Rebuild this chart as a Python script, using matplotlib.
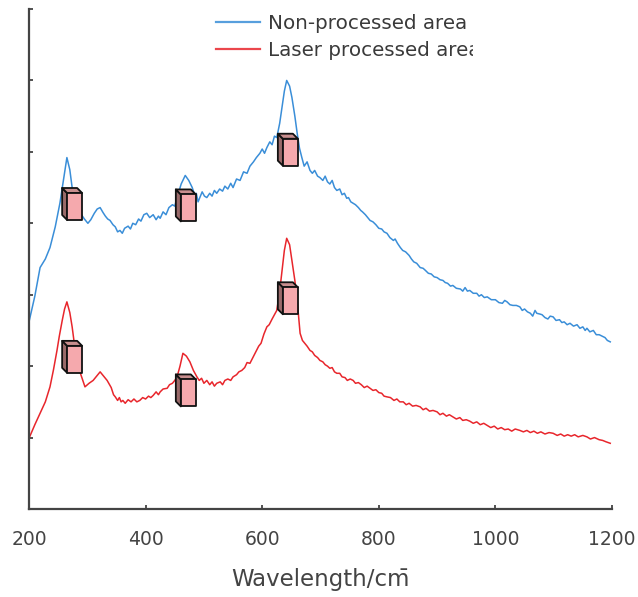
import matplotlib

matplotlib.use("Agg")
import matplotlib.pyplot as plt
from matplotlib.patches import Polygon
from matplotlib.transforms import Bbox, ScaledTranslation, TransformedBbox

# Spectra as (wavenumber, intensity) pairs, intensity 0..7
blue_spectrum = [
    (200, 2.62), (210, 2.98), (219, 3.38), (228, 3.50), (236, 3.66), (245, 3.95),
    (253, 4.28), (259, 4.60), (265, 4.92), (270, 4.75), (274, 4.50), (280, 4.30),
    (285, 4.18), (290, 4.12), (295, 4.06), (301, 4.00), (306, 4.05), (312, 4.14),
    (317, 4.20), (322, 4.22), (327, 4.15), (331, 4.10), (335, 4.06), (339, 4.04),
    (344, 3.98), (348, 3.95), (352, 3.88), (356, 3.90), (360, 3.86), (364, 3.93),
    (370, 3.96), (374, 3.92), (378, 4.00), (383, 3.98), (388, 4.06), (392, 4.03),
    (397, 4.12), (402, 4.14), (407, 4.08), (413, 4.12), (418, 4.05), (422, 4.10),
    (425, 4.07), (430, 4.16), (435, 4.12), (440, 4.22), (446, 4.26), (450, 4.24),
    (454, 4.36), (461, 4.55), (468, 4.67), (474, 4.60), (480, 4.50), (484, 4.40),
    (487, 4.42), (490, 4.30), (493, 4.36), (497, 4.44), (501, 4.38), (505, 4.36),
    (510, 4.42), (514, 4.38), (518, 4.46), (522, 4.42), (527, 4.48), (532, 4.45),
    (536, 4.52), (541, 4.48), (546, 4.56), (550, 4.50), (556, 4.62), (562, 4.60),
    (568, 4.72), (574, 4.70), (579, 4.80), (585, 4.86), (590, 4.92), (596, 4.98),
    (600, 5.04), (604, 4.98), (608, 5.06), (613, 5.14), (617, 5.10), (621, 5.22),
    (625, 5.20), (630, 5.40), (634, 5.62), (638, 5.85), (642, 6.00), (647, 5.92),
    (651, 5.76), (656, 5.50), (660, 5.26), (664, 5.05), (668, 4.92), (672, 4.80),
    (677, 4.86), (682, 4.74), (686, 4.70), (690, 4.74), (695, 4.66), (699, 4.64),
    (704, 4.60), (708, 4.66), (712, 4.58), (716, 4.55), (720, 4.60), (724, 4.50),
    (728, 4.46), (733, 4.48), (737, 4.40), (741, 4.42), (745, 4.35), (748, 4.36),
    (752, 4.30), (756, 4.28), (760, 4.26), (765, 4.22), (769, 4.18), (772, 4.16),
    (777, 4.12), (781, 4.08), (785, 4.04), (790, 4.02), (795, 3.98), (800, 3.93),
    (805, 3.92), (809, 3.88), (814, 3.86), (819, 3.80), (825, 3.76), (828, 3.78),
    (832, 3.72), (837, 3.66), (841, 3.62), (846, 3.60), (852, 3.55), (856, 3.50),
    (860, 3.46), (865, 3.44), (871, 3.38), (876, 3.37), (880, 3.34), (885, 3.30),
    (890, 3.29), (895, 3.25), (900, 3.24), (905, 3.21), (910, 3.20), (914, 3.17),
    (918, 3.16), (923, 3.12), (927, 3.13), (933, 3.09), (940, 3.08), (944, 3.05),
    (948, 3.10), (952, 3.05), (956, 3.06), (962, 3.02), (968, 3.02), (972, 2.98),
    (976, 3.00), (981, 2.96), (986, 2.97), (993, 2.93), (1000, 2.93), (1006, 2.89),
    (1012, 2.88), (1016, 2.92), (1020, 2.90), (1025, 2.86), (1030, 2.85), (1036, 2.85),
    (1042, 2.83), (1046, 2.78), (1050, 2.80), (1055, 2.76), (1060, 2.74), (1064, 2.70),
    (1068, 2.78), (1071, 2.74), (1076, 2.73), (1080, 2.72), (1085, 2.68), (1090, 2.66),
    (1094, 2.70), (1099, 2.69), (1104, 2.64), (1110, 2.65), (1114, 2.61), (1118, 2.62),
    (1123, 2.58), (1128, 2.60), (1134, 2.56), (1140, 2.58), (1145, 2.53), (1150, 2.55),
    (1154, 2.50), (1157, 2.53), (1162, 2.48), (1168, 2.50), (1173, 2.44), (1178, 2.44),
    (1183, 2.42), (1188, 2.40), (1192, 2.36), (1197, 2.34),
]

red_spectrum = [
    (200, 0.99), (210, 1.18), (219, 1.34), (228, 1.50), (236, 1.71), (242, 1.95),
    (248, 2.22), (252, 2.42), (257, 2.64), (261, 2.80), (265, 2.90), (270, 2.75),
    (274, 2.55), (278, 2.30), (282, 2.08), (289, 1.88), (296, 1.71), (303, 1.76),
    (310, 1.80), (316, 1.86), (322, 1.92), (328, 1.86), (334, 1.80), (341, 1.70),
    (345, 1.60), (348, 1.57), (352, 1.52), (355, 1.56), (358, 1.50), (361, 1.52),
    (365, 1.48), (370, 1.53), (375, 1.50), (380, 1.54), (385, 1.50), (390, 1.52),
    (395, 1.56), (400, 1.54), (405, 1.58), (409, 1.56), (413, 1.59), (418, 1.64),
    (422, 1.60), (425, 1.64), (430, 1.68), (437, 1.69), (441, 1.74), (446, 1.76),
    (450, 1.80), (454, 1.85), (459, 2.00), (464, 2.18), (470, 2.14), (476, 2.06),
    (482, 1.94), (488, 1.85), (492, 1.80), (496, 1.83), (500, 1.76), (505, 1.80),
    (510, 1.74), (514, 1.78), (518, 1.72), (522, 1.76), (528, 1.78), (532, 1.74),
    (536, 1.80), (541, 1.82), (546, 1.80), (550, 1.85), (556, 1.88), (560, 1.92),
    (565, 1.94), (570, 1.98), (574, 2.05), (579, 2.04), (584, 2.12), (589, 2.20),
    (594, 2.28), (598, 2.32), (603, 2.45), (608, 2.55), (612, 2.58), (617, 2.66),
    (621, 2.72), (625, 2.78), (630, 3.05), (634, 3.34), (638, 3.62), (642, 3.79),
    (647, 3.70), (651, 3.48), (656, 3.20), (660, 2.92), (665, 2.46), (669, 2.36),
    (673, 2.32), (677, 2.28), (682, 2.22), (686, 2.20), (690, 2.15), (695, 2.12),
    (699, 2.08), (704, 2.06), (708, 2.02), (712, 2.00), (716, 1.97), (720, 1.98),
    (724, 1.92), (728, 1.90), (733, 1.90), (737, 1.85), (742, 1.84), (746, 1.80),
    (751, 1.82), (756, 1.80), (760, 1.76), (765, 1.77), (770, 1.74), (775, 1.70),
    (780, 1.72), (785, 1.69), (790, 1.66), (795, 1.67), (800, 1.63), (805, 1.62),
    (809, 1.58), (814, 1.57), (820, 1.56), (826, 1.52), (831, 1.54), (836, 1.50),
    (842, 1.50), (847, 1.46), (852, 1.48), (858, 1.44), (864, 1.45), (871, 1.43),
    (876, 1.39), (881, 1.41), (887, 1.37), (893, 1.38), (900, 1.36), (905, 1.32),
    (910, 1.34), (916, 1.30), (921, 1.32), (927, 1.29), (933, 1.26), (939, 1.28),
    (944, 1.24), (950, 1.25), (956, 1.23), (962, 1.20), (968, 1.22), (974, 1.18),
    (980, 1.20), (986, 1.17), (992, 1.14), (998, 1.16), (1004, 1.12), (1010, 1.14),
    (1016, 1.11), (1022, 1.12), (1028, 1.09), (1034, 1.12), (1042, 1.10), (1048, 1.08),
    (1054, 1.10), (1060, 1.07), (1066, 1.09), (1072, 1.06), (1078, 1.08), (1085, 1.05),
    (1092, 1.07), (1099, 1.06), (1106, 1.03), (1112, 1.05), (1118, 1.02), (1124, 1.04),
    (1130, 1.02), (1136, 1.04), (1142, 1.01), (1150, 1.03), (1157, 1.01), (1163, 0.98),
    (1170, 1.00), (1178, 0.97), (1184, 0.96), (1190, 0.94), (1197, 0.92),
]

# box markers on the peaks
box_x = [274, 469, 644]
blue_box_y = [4.27, 4.25, 5.03]
red_box_y = [2.13, 1.66, 2.95]

x_ticks = [200, 400, 600, 800, 1000, 1200]
labels = ["Non-processed area", "Laser processed area"]

BLUE = "#3a8ed8"
RED = "#e8262c"


def draw_box(ax, fig, x, y, w=20, h=32, d=5):
    """Small 3D cuboid centred at a data point; sizes are in pixels."""
    trans = fig.dpi_scale_trans + ScaledTranslation(x, y, ax.transData)
    s = 1.0 / fig.dpi
    xl, xr, yb, yt = -w / 2 * s, w / 2 * s, -h / 2 * s, h / 2 * s
    d = d * s
    side = [(xl, yb + d), (xl + d, yb), (xl + d, yt - d), (xl, yt)]
    top = [(xl, yt), (xl + d, yt - d), (xr, yt - d), (xr - d, yt)]
    front = [(xl + d, yb), (xr, yb), (xr, yt - d), (xl + d, yt - d)]
    for verts, color in ((side, "#9a6a6a"), (top, "#c88e8e"), (front, "#f5a9ad")):
        ax.add_patch(Polygon(verts, closed=True, facecolor=color, edgecolor="#111111",
                             linewidth=1.3, joinstyle="round", transform=trans, zorder=5))


blue_x, blue_y = zip(*blue_spectrum)
red_x, red_y = zip(*red_spectrum)

fig = plt.figure(figsize=(6.38, 5.97), dpi=100)
ax = fig.add_axes([29 / 638, 88 / 597, 583 / 638, 500 / 597])

l1, = ax.plot(blue_x, blue_y, color=BLUE, linewidth=1.1)
l2, = ax.plot(red_x, red_y, color=RED, linewidth=1.1)

for bx, by in zip(box_x, blue_box_y):
    draw_box(ax, fig, bx, by)
for bx, by in zip(box_x, red_box_y):
    draw_box(ax, fig, bx, by)

ax.set_xlim(200, 1200)
ax.set_ylim(0, 7)
ax.set_xticks(x_ticks)
ax.set_yticks(range(8))
ax.set_yticklabels([])
ax.tick_params(axis="both", direction="in", length=3, width=1.2, color="#333333")
ax.tick_params(axis="x", labelsize=13.5, labelcolor="#444444", pad=15)
for name in ("top", "right"):
    ax.spines[name].set_visible(False)
for name in ("left", "bottom"):
    ax.spines[name].set_color("#444444")
    ax.spines[name].set_linewidth(1.6)

ax.set_xlabel("Wavelength/cm\u0304", fontsize=16.5, color="#444444", labelpad=14)

leg = ax.legend([l1, l2], labels, loc="upper left", bbox_to_anchor=(216 / 638, 1 - 14 / 597),
                bbox_transform=fig.transFigure, frameon=False, fontsize=14.3,
                handlelength=2.2, handletextpad=0.4, labelspacing=0.42, borderpad=0,
                borderaxespad=0)
for line in leg.get_lines():
    line.set_linewidth(1.6)
    line.set_alpha(0.85)
# the reference cuts the legend text off at its right edge
clip = TransformedBbox(Bbox([[0, 0], [473 / 638, 1]]), fig.transFigure)
for txt in leg.get_texts():
    txt.set_color("#3a3a3a")
    txt.set_clip_box(clip)
    txt.set_clip_on(True)

fig.savefig("out.png", dpi=100)
